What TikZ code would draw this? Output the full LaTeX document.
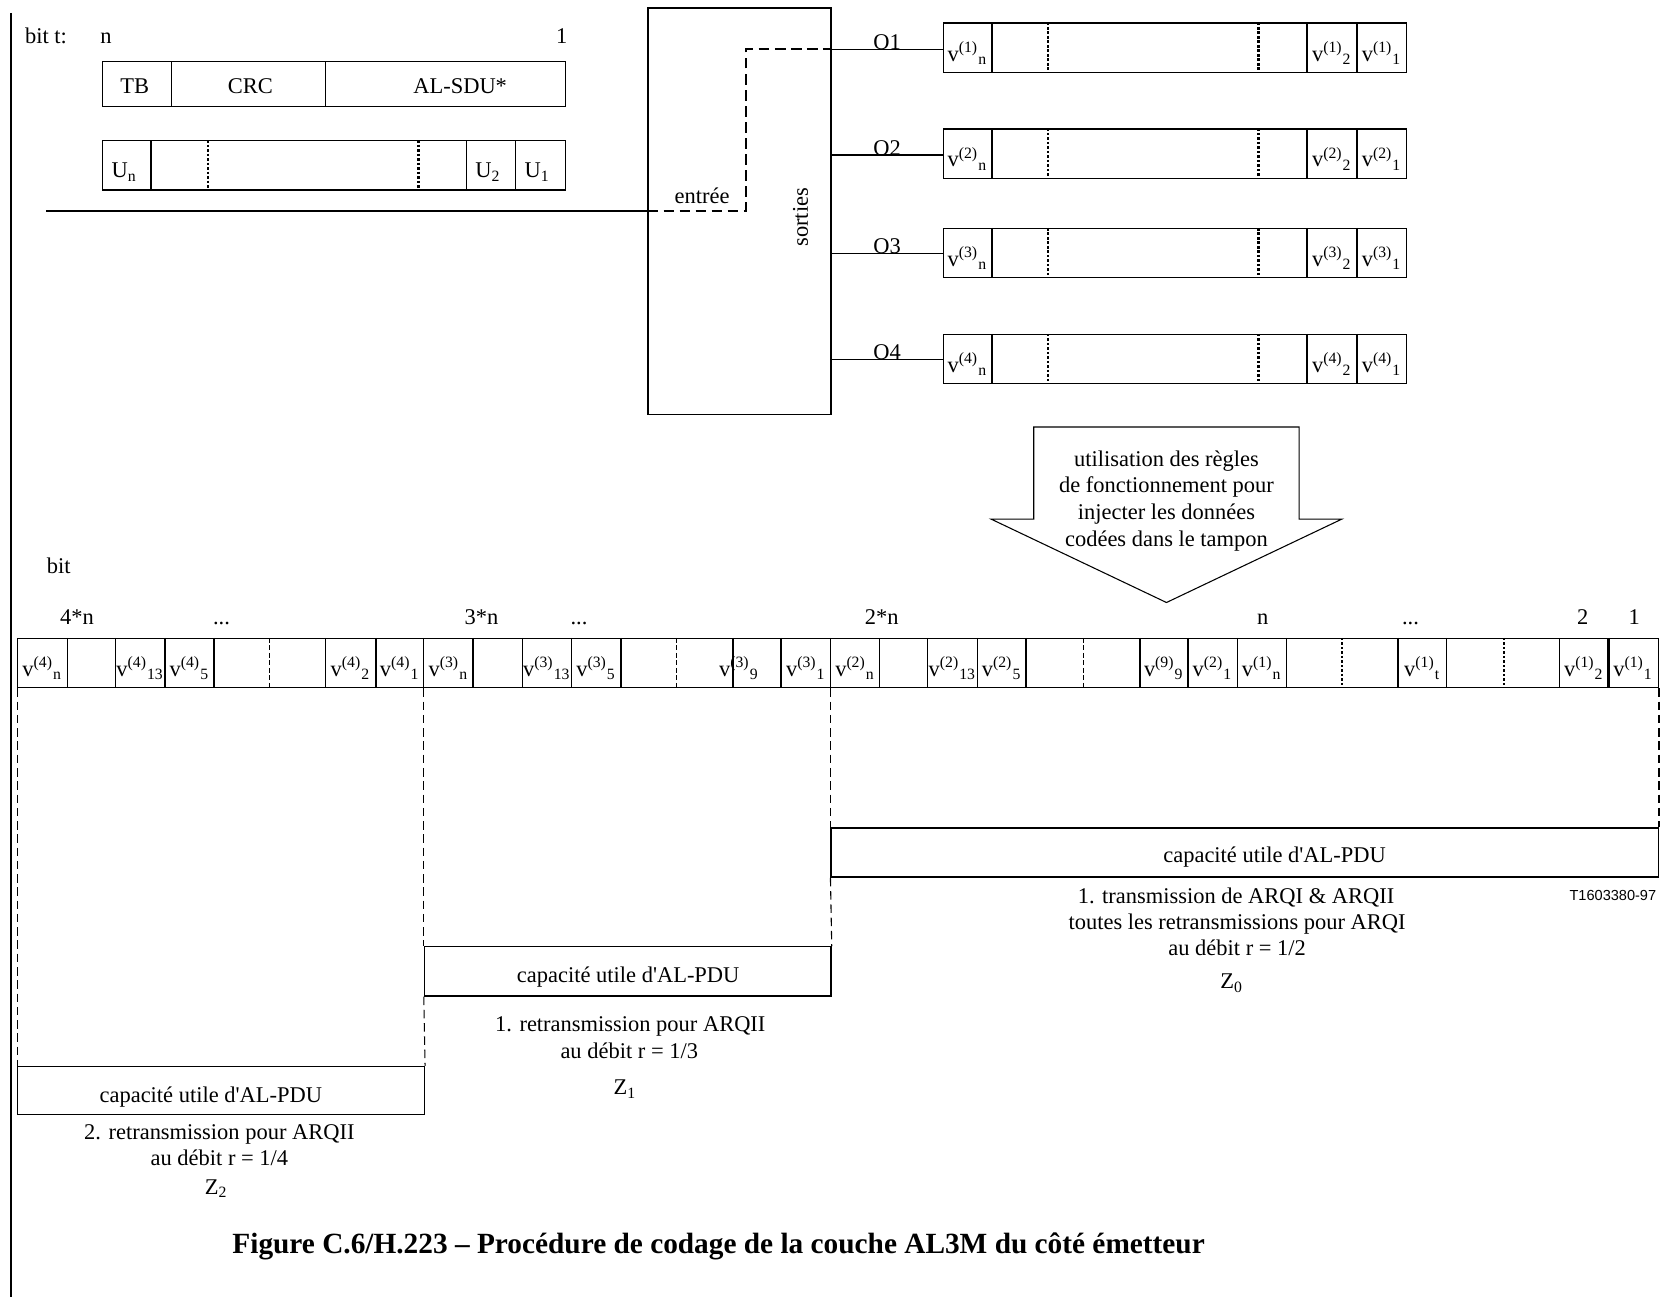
\documentclass[tikz,border=0pt]{standalone}
\usepackage{fontspec}
\setmainfont{Liberation Serif}
\newfontfamily\arialfont{Liberation Sans}
\newcommand{\vv}[2]{v\textsuperscript{(#1)}\textsubscript{#2}}
\newcommand{\apos}{\XeTeXglyph\XeTeXcharglyph"0027\relax}
\begin{document}
\begin{tikzpicture}[x=0.5pt,y=-0.5pt,
  every node/.style={font=\fontsize{10.5}{13}\selectfont, inner sep=0pt},
  thinl/.style={line width=0.5pt},
  thickl/.style={line width=1pt},
  dotl/.style={line width=1pt, dash pattern=on 1.2pt off 0.9pt},
  dashl/.style={line width=0.45pt, dash pattern=on 2.2pt off 1.3pt},
  longdash/.style={line width=0.5pt, dash pattern=on 4pt off 2.2pt},
  thickdash/.style={line width=1pt, dash pattern=on 4pt off 2.2pt},
  routedash/.style={line width=1pt, dash pattern=on 5pt off 2.5pt},
  boxl/.style={draw, line width=0.6pt, inner sep=0pt, anchor=north west},
  lbl/.style={anchor=base},
]
\useasboundingbox (0,0) rectangle (1568,1212);

% page border line
\coordinate (lt) at (10,12);
\coordinate (lb) at (10,1212);
\draw[line width=1.1pt] (lt) -- (lb);

% top left
\node[lbl] (bitt) at (43,41) {bit t:};
\node[lbl] (tn) at (99,41) {n};
\node[lbl] (t1) at (525,41) {1};

\node[boxl, minimum width=216.5pt, minimum height=21pt] (tb) at (95,57) {};
\draw[thinl] (160,57) -- (160,99);
\draw[thinl] (304,57) -- (304,99);
\node[lbl] (tbl) at (126,87) {TB};
\node[lbl] (crcl) at (234,87) {CRC};
\node[lbl] (sdul) at (430,87) {AL-SDU*};

\node[boxl, minimum width=216.5pt, minimum height=23pt] (ub) at (95,131) {};
\draw[thickl] (141,131) -- (141,177);
\draw[dotl] (194,131) -- (194,177);
\draw[dotl] (391,131) -- (391,177);
\draw[thinl] (436,131) -- (436,177);
\draw[thinl] (482,131) -- (482,177);
\node[lbl] (un) at (116,166) {U\textsubscript{n}};
\node[lbl] (u2) at (456,166) {U\textsubscript{2}};
\node[lbl] (u1) at (502,166) {U\textsubscript{1}};

% switch
\node[boxl, minimum width=85.5pt, minimum height=190pt] (sw) at (605,7) {};
\coordinate (in) at (43,197);
\coordinate (bend) at (697,46);
\draw[line width=1.2pt] (in) -- (sw.west |- in);
\draw[routedash] (sw.west |- in) -| (bend) -- (sw.east |- bend);
\node[lbl] (entree) at (656,190) {entrée};
\node[rotate=90] (sorties) at (748,203) {sorties};

% output registers
\foreach \i/\ty/\ly/\lw in {1/21/46/0.6pt, 2/120/145/1pt, 3/213/237/0.6pt, 4/312/336/0.6pt}{
  \node[boxl, minimum width=216.5pt, minimum height=23pt] (o\i) at (881,\ty) {};
  \coordinate (ol\i) at (776,\ly);
  \draw[line width=\lw] (sw.east |- ol\i) -- (o\i.west |- ol\i);
  \node[lbl] (olab\i) at (829,\ly) {O\i};
  \draw[thickl] (927,\ty) -- ++(0,46);
  \draw[dotl] (979,\ty) -- ++(0,46);
  \draw[dotl] (1176,\ty) -- ++(0,46);
  \draw[thickl] (1221,\ty) -- ++(0,46);
  \draw[thickl] (1268,\ty) -- ++(0,46);
  \node[lbl] at (904,\ty+36) {\vv{\i}{n}};
  \node[lbl] at (1244.5,\ty+36) {\vv{\i}{2}};
  \node[lbl] at (1291,\ty+36) {\vv{\i}{1}};
}

% block arrow
\draw[thinl] (966,399) -- (1214,399) -- (1214,485) -- (1254,485) -- (1090,563)
  -- (926,485) -- (966,485) -- cycle;
\node[align=center, font=\fontsize{10.5}{12.4}\selectfont] (arrtxt) at (1090,468) {utilisation des règles\\de fonctionnement pour\\injecter les données\\codées dans le tampon};

% bottom register
\node[lbl] (bit) at (55,536) {bit};
\node[lbl] (p4n) at (72,584) {4*n};
\node[lbl] (d4) at (207,584) {...};
\node[lbl] (p3n) at (450,584) {3*n};
\node[lbl] (d3) at (541,584) {...};
\node[lbl] (p2n) at (824,584) {2*n};
\node[lbl] (pn) at (1180,584) {n};
\node[lbl] (d1) at (1318,584) {...};
\node[lbl] (p2) at (1479,584) {2};
\node[lbl] (p1) at (1527,584) {1};

\node[boxl, minimum width=766.5pt, minimum height=23pt] (breg) at (16,596) {};
\foreach \x in {63,108,304,396,442,488,534,776,822,867,913,1156,1202,1352,1457}{
  \draw[thinl] (\x,596) -- (\x,642);
}
\foreach \x in {154,200,351,580,685,730,959,1065,1110,1306,1503}{
  \draw[thickl] (\x,596) -- (\x,642);
}
\foreach \x in {252,632,1012}{
  \draw[dashl] (\x,596) -- (\x,642);
}
\foreach \x in {1254,1405}{
  \draw[dotl] (\x,596) -- (\x,642);
}
\foreach \x/\a/\b in {39.5/4/n, 131/4/13, 177/4/5, 327.5/4/2, 373.5/4/1,
  419/3/n, 511/3/13, 557/3/5, 690.5/3/9, 753/3/1,
  799/2/n, 890/2/13, 936/2/5, 1087.5/9/9, 1133/2/1,
  1179/1/n, 1329/1/t, 1480/1/2, 1526/1/1}{
  \node[lbl] at (\x,632) {\vv{\a}{\b}};
}

% capacity boxes
\node[boxl, minimum width=386.5pt, minimum height=23pt] (z0) at (776,773) {};
\node[boxl, minimum width=190pt, minimum height=23pt] (z1) at (396,884) {};
\node[boxl, minimum width=190pt, minimum height=22.5pt] (z2) at (16,996) {};

\draw[longdash] (breg.south west) -- (z2.north west);
\draw[longdash] (z1.north west |- breg.south) -- (z1.north west);
\draw[longdash] (z1.south west) -- (z2.north east);
\draw[longdash] (z0.north west |- breg.south) -- (z0.north west);
\draw[longdash] (z0.south west) -- (z1.north east);
\draw[thickdash] (breg.south east) -- (z0.north east);

\node[lbl] (z0t) at (1191,806) {capacité utile d\apos AL-PDU};
\node[lbl] (z1t) at (587,918) {capacité utile d\apos AL-PDU};
\node[lbl] (z2t) at (197,1030) {capacité utile d\apos AL-PDU};

\node[lbl] (z0a) at (1155,844) {1. transmission de ARQI \& ARQII};
\node[lbl] (z0b) at (1156,869) {toutes les retransmissions pour ARQI};
\node[lbl] (z0c) at (1156,893) {au débit r = 1/2};
\node[lbl] (z0d) at (1151,924) {Z\textsubscript{0}};

\node[lbl] (z1a) at (589,964) {1. retransmission pour ARQII};
\node[lbl] (z1b) at (588,989) {au débit r = 1/3};
\node[lbl] (z1c) at (584,1023) {Z\textsubscript{1}};

\node[lbl] (z2a) at (205,1065) {2. retransmission pour ARQII};
\node[lbl] (z2b) at (205,1089) {au débit r = 1/4};
\node[lbl] (z2c) at (202,1116) {Z\textsubscript{2}};

\node[anchor=base east, font=\arialfont\fontsize{6.8}{8}\selectfont] (tnum) at (1548,841) {T1603380-97};

\node[font=\fontsize{13.7}{16}\selectfont\bfseries] (cap) at (671.5,1165) {Figure C.6/H.223 – Procédure de codage de la couche AL3M du côté émetteur};
\end{tikzpicture}
\end{document}
